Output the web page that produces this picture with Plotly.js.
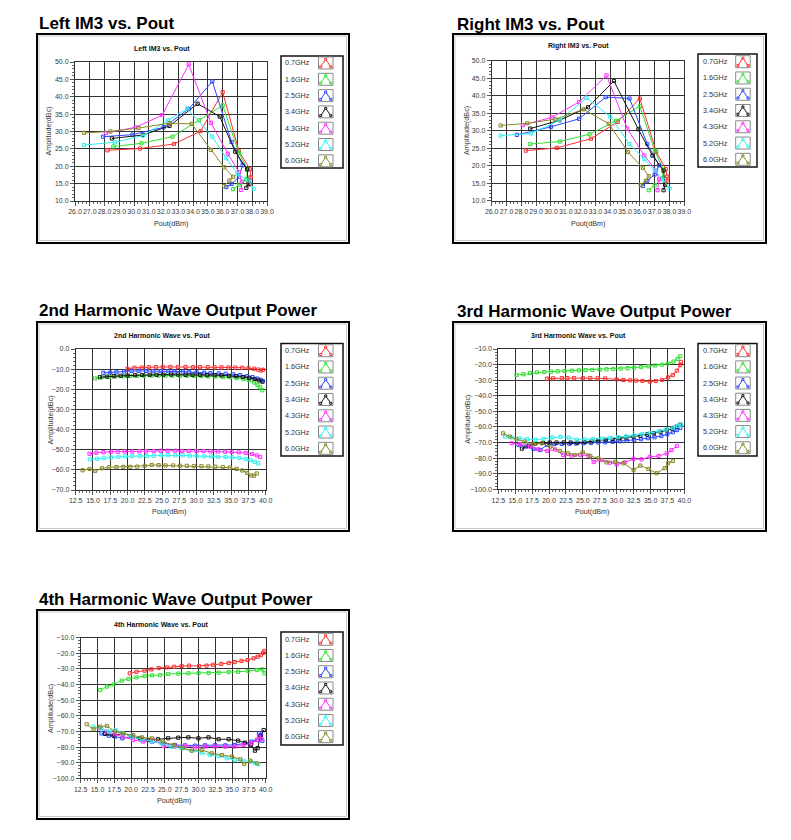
<!DOCTYPE html>
<html><head><meta charset="utf-8">
<script src="https://cdn.plot.ly/plotly-3.0.1.min.js"></script>
<style>html,body{margin:0;padding:0;background:#fff;}#chart{width:791px;height:840px;}</style>
</head><body><div id="chart"></div>
<script>
// ---------- labels / colours ----------
const freqLabels = ['0.7GHz','1.6GHz','2.5GHz','3.4GHz','4.3GHz','5.2GHz','6.0GHz'];
const seriesColors = ['#ff3030','#30e030','#2848ff','#151515','#ff30ff','#30f0f0','#8a8a2a'];
const headings = ['Left IM3 vs. Pout','Right IM3 vs. Pout','2nd Harmonic Wave Output Power','3rd Harmonic Wave Output Power','4th Harmonic Wave Output Power'];
const subTitles = ['Left IM3 vs. Pout','Right IM3 vs. Pout','2nd Harmonic Wave vs. Pout','3rd Harmonic Wave vs. Pout','4th Harmonic Wave vs. Pout'];
const xTitle = 'Pout(dBm)';
const yTitle = 'Amplitude(dBc)';

// ---------- Left IM3 ----------
const L07X=[28.2,30.4,32.7,34.5,36.0,37.1,37.85,37.9,37.8,37.75,37.85];
const L07Y=[24.6,25.1,26.4,30.1,41.3,24.3,19.1,16.8,16.0,15.3,14.8];
const L16X=[28.6,30.5,32.6,34.4,36.0,37.1,37.7,37.6,37.1,36.7];
const L16Y=[25.7,26.6,28.5,33.2,37.5,23.8,19.0,16.2,14.7,13.4];
const L25X=[27.9,29.9,32.0,33.7,35.3,36.6,37.35,37.1,36.6,36.25];
const L25Y=[28.5,29.1,31.2,36.5,44.4,27.0,20.3,17.0,14.9,14.0];
const L34X=[28.5,30.6,32.4,34.3,35.8,36.85,37.65,37.75,37.6];
const L34Y=[28.0,29.0,31.6,38.0,34.3,24.2,19.1,14.9,13.8];
const L43X=[28.1,30.1,31.9,33.7,35.2,36.35,37.1,37.3,37.25];
const L43Y=[29.6,31.2,34.7,49.3,32.5,23.6,18.3,15.6,13.2];
const L52X=[26.6,28.7,30.6,32.3,33.6,35.3,36.25,37.0,37.75,38.1];
const L52Y=[26.1,26.9,28.8,33.2,36.6,28.5,22.3,17.8,15.9,13.5];
const L60X=[26.6,28.4,30.3,32.4,33.9,35.2,36.1,36.7,36.45,36.1];
const L60Y=[29.6,30.0,31.0,32.4,32.2,24.7,19.7,17.0,15.9,14.3];

// ---------- Right IM3 ----------
const R07X=[28.3,30.4,32.7,34.5,36.0,37.1,37.75,37.85,37.8,37.7];
const R07Y=[24.3,25.1,27.7,32.5,39.2,24.0,19.0,16.9,15.7,15.0];
const R16X=[28.6,30.6,32.6,34.4,36.0,37.0,37.6,37.5,37.0,36.6];
const R16Y=[26.2,26.9,29.0,32.8,37.0,24.3,18.8,16.4,14.4,13.0];
const R25X=[27.7,30.0,31.9,33.7,35.3,36.5,37.3,37.0,36.5,36.2];
const R25Y=[28.8,31.1,33.4,39.6,39.2,26.2,20.1,17.5,15.6,14.2];
const R34X=[28.6,30.6,32.5,34.25,35.9,36.85,37.6,37.7,37.6];
const R34Y=[30.6,33.0,36.7,44.2,30.4,22.9,18.6,14.5,13.0];
const R43X=[28.1,30.05,31.9,33.75,35.15,36.3,37.1,37.3,37.2];
const R43Y=[31.6,33.8,38.2,45.8,30.6,22.9,18.6,16.1,13.0];
const R52X=[26.6,28.65,30.6,32.4,34.0,35.3,36.3,37.0,37.6,38.0];
const R52Y=[28.6,29.2,33.0,39.4,34.0,26.2,21.9,18.6,15.9,13.5];
const R60X=[26.6,28.4,30.3,32.2,33.9,35.2,36.2,36.6,36.4,36.05];
const R60Y=[31.5,32.1,33.3,36.1,32.0,23.9,19.4,17.0,15.7,14.5];

// ---------- 2nd harmonic ----------
const H2_07X=[20.0,21.0,22.1,23.1,24.1,25.1,26.2,27.3,28.4,29.5,30.5,31.6,32.6,33.6,34.6,35.6,36.6,37.5,38.3,38.9,39.3,39.6];
const H2_07Y=[-9.8,-9.3,-9.2,-9.0,-9.0,-8.9,-8.9,-8.9,-8.9,-9.0,-9.0,-9.0,-9.1,-9.1,-9.2,-9.2,-9.3,-9.5,-9.8,-10.2,-10.7,-10.3];
const H2_16X=[15.3,16.3,17.3,18.3,19.4,20.4,21.4,22.4,23.5,24.5,25.5,26.5,27.6,28.6,29.6,30.7,31.7,32.7,33.8,34.8,35.8,36.8,37.6,38.3,38.8,39.2,39.5];
const H2_16Y=[-14.6,-14.0,-13.8,-13.6,-13.5,-13.4,-13.3,-13.3,-13.2,-13.2,-13.2,-13.2,-13.3,-13.3,-13.4,-13.5,-13.6,-13.7,-13.9,-14.1,-14.4,-14.9,-15.6,-16.6,-17.8,-19.0,-20.5];
const H2_25X=[16.5,17.5,18.4,19.5,20.6,21.6,22.7,23.7,24.8,25.9,26.8,28.0,28.9,30.0,31.1,32.0,33.2,34.2,35.3,36.3,37.3,38.1,38.8,39.3,39.6];
const H2_25Y=[-11.8,-11.7,-11.6,-11.2,-10.9,-10.8,-10.9,-11.0,-11.0,-11.1,-11.2,-11.2,-11.4,-11.6,-11.8,-12.0,-12.1,-12.3,-12.6,-13.0,-13.5,-14.0,-14.7,-15.3,-16.0];
const H2_34X=[16.0,17.0,18.0,19.0,20.0,21.1,22.1,23.2,24.2,25.2,26.3,27.3,28.4,29.4,30.5,31.5,32.6,33.6,34.7,35.7,36.7,37.6,38.4,39.0,39.5];
const H2_34Y=[-14.0,-13.7,-13.5,-13.3,-13.2,-13.0,-12.9,-12.8,-12.8,-12.7,-12.7,-12.7,-12.8,-12.8,-12.9,-13.0,-13.0,-13.1,-13.3,-13.5,-13.9,-14.3,-14.9,-15.6,-16.2];
const H2_43X=[14.5,15.5,16.5,17.6,18.6,19.6,20.7,21.7,22.7,23.8,24.8,25.8,26.9,27.9,28.9,30.0,31.0,32.0,33.1,34.1,35.1,36.1,37.1,38.0,38.7,39.2];
const H2_43Y=[-52.0,-51.5,-51.2,-51.0,-51.0,-50.9,-50.9,-50.8,-50.8,-50.7,-50.5,-50.5,-50.5,-50.6,-50.6,-50.7,-50.7,-50.8,-50.9,-51.0,-51.1,-51.3,-51.6,-52.1,-52.8,-53.6];
const H2_52X=[14.6,15.6,16.6,17.6,18.7,19.7,20.7,21.8,22.8,23.8,24.9,25.9,26.9,28.0,29.0,30.0,31.1,32.1,33.1,34.2,35.2,36.2,37.1,37.8,38.4,38.9];
const H2_52Y=[-54.8,-54.5,-54.0,-53.8,-53.5,-53.3,-53.2,-53.2,-53.1,-53.0,-52.8,-52.7,-52.8,-52.8,-53.0,-53.2,-53.3,-53.4,-53.5,-53.6,-53.8,-54.1,-54.6,-55.2,-56.0,-56.8];
const H2_60X=[13.5,14.5,15.3,16.3,17.3,18.4,19.4,20.4,21.4,22.5,23.5,24.5,25.5,26.6,27.6,28.6,29.6,30.7,31.7,32.7,33.8,34.8,35.8,36.6,37.3,37.9,38.3,38.7];
const H2_60Y=[-60.2,-59.5,-60.6,-59.2,-58.7,-58.6,-58.5,-58.5,-58.4,-58.0,-57.6,-57.7,-57.8,-57.8,-57.9,-58.0,-58.1,-58.2,-58.3,-58.4,-58.6,-58.9,-59.5,-60.3,-61.5,-62.8,-62.9,-61.8];

// ---------- 3rd harmonic ----------
const H3_07X=[19.7,20.6,21.9,22.7,23.7,25.0,26.1,27.2,28.3,30.0,31.0,32.0,32.9,33.8,34.9,35.8,36.7,37.6,38.3,38.9,39.4,39.5];
const H3_07Y=[-29.0,-28.8,-28.7,-28.7,-28.7,-28.7,-28.7,-28.8,-28.9,-29.5,-29.9,-30.1,-30.3,-30.5,-30.9,-30.5,-29.9,-28.2,-26.7,-23.9,-20.3,-18.3];
const H3_16X=[15.2,16.2,17.2,18.2,19.3,20.3,21.3,22.3,23.4,24.4,25.4,26.4,27.5,28.5,29.5,30.6,31.6,32.6,33.6,34.7,35.7,36.7,37.6,38.4,39.0,39.4];
const H3_16Y=[-26.7,-26.2,-25.4,-25.0,-24.8,-24.5,-24.3,-24.1,-23.9,-23.7,-23.6,-23.4,-23.2,-23.0,-22.8,-22.6,-22.3,-22.0,-21.6,-21.1,-20.6,-20.1,-19.3,-18.1,-16.4,-14.7];
const H3_25X=[15.5,16.6,17.7,18.7,19.7,20.8,21.9,23.0,24.0,25.1,26.2,27.3,28.3,29.4,30.5,31.5,32.6,33.6,34.6,35.6,36.6,37.5,38.3,38.9,39.4];
const H3_25Y=[-71.6,-72.6,-74.1,-74.8,-71.6,-71.0,-70.9,-70.8,-70.6,-70.5,-70.3,-70.0,-69.8,-69.5,-69.2,-68.8,-68.3,-67.8,-67.2,-66.6,-65.8,-64.7,-63.4,-62.0,-60.5];
const H3_34X=[16.0,17.0,18.0,19.1,20.1,21.1,22.2,23.2,24.2,25.3,26.3,27.3,28.4,29.4,30.4,31.4,32.5,33.5,34.5,35.5,36.5,37.4,38.2,38.9,39.4];
const H3_34Y=[-73.9,-72.0,-70.6,-70.2,-70.0,-70.0,-69.9,-70.0,-70.1,-69.7,-69.3,-68.8,-68.2,-67.7,-67.2,-66.8,-66.2,-65.6,-64.8,-64.0,-63.1,-62.1,-61.0,-59.7,-58.6];
const H3_43X=[14.5,15.7,17.2,18.4,19.7,20.9,22.1,23.3,24.6,25.8,26.6,27.8,29.0,30.0,31.2,32.5,33.7,34.9,36.2,37.4,38.1,38.9];
const H3_43Y=[-70.5,-71.0,-72.6,-74.3,-75.4,-74.5,-78.0,-78.4,-78.0,-78.4,-82.5,-81.2,-82.9,-84.0,-82.7,-80.5,-80.8,-79.2,-78.6,-77.0,-74.8,-72.2];
const H3_52X=[13.5,14.5,15.6,16.8,18.0,19.2,20.5,21.7,22.9,24.1,25.3,26.5,27.8,29.0,30.2,31.4,32.6,33.8,35.0,36.2,37.3,38.3,39.0,39.5];
const H3_52Y=[-66.2,-66.8,-67.3,-67.9,-68.2,-67.6,-66.8,-66.4,-66.8,-68.2,-68.0,-67.8,-67.4,-67.0,-66.5,-66.0,-65.4,-64.6,-63.8,-62.8,-61.7,-60.5,-59.4,-58.6];
const H3_60X=[13.2,14.2,15.2,16.4,17.7,18.9,20.2,21.6,22.8,23.8,25.0,26.1,27.3,28.5,29.8,31.0,32.5,33.5,34.7,35.9,37.1,37.6,38.3];
const H3_60Y=[-64.1,-66.2,-67.9,-69.4,-70.9,-70.5,-72.6,-75.4,-76.9,-78.0,-76.3,-78.6,-80.1,-82.7,-82.3,-83.3,-87.6,-84.8,-87.0,-89.7,-86.5,-83.3,-81.8];

// ---------- 4th harmonic ----------
const H4_07X=[19.8,20.8,22.0,23.0,24.1,25.3,26.4,27.5,28.6,30.1,31.2,32.2,33.4,34.5,35.4,36.4,37.3,38.2,38.8,39.3,39.6,39.8];
const H4_07Y=[-32.8,-31.8,-31.1,-30.3,-29.4,-29.0,-28.6,-28.1,-27.9,-28.1,-27.9,-27.3,-26.8,-26.2,-25.6,-24.9,-24.3,-23.2,-22.2,-21.1,-19.6,-18.5];
const H4_16X=[15.4,16.4,17.4,18.6,19.6,20.8,22.0,23.1,24.3,25.5,27.0,28.5,30.0,31.5,33.0,34.5,35.9,37.4,38.7,39.5,39.8];
const H4_16Y=[-43.5,-41.3,-39.9,-37.5,-36.4,-35.4,-34.5,-34.1,-33.9,-33.2,-33.0,-32.8,-32.6,-32.6,-32.4,-32.0,-31.8,-31.3,-30.7,-30.3,-32.8];
const H4_25X=[15.6,16.7,17.6,18.7,20.1,21.6,23.1,24.8,26.5,28.0,29.5,31.0,32.5,34.0,35.4,36.9,37.9,38.7,39.0,39.3,39.5];
const H4_25Y=[-71.2,-72.7,-73.3,-74.4,-73.3,-75.5,-76.6,-77.6,-78.7,-78.9,-79.1,-78.9,-78.7,-78.9,-78.7,-77.6,-76.5,-75.5,-71.2,-72.5,-76.0];
const H4_34X=[16.1,17.4,18.8,20.1,21.3,22.6,24.0,25.5,27.0,28.5,30.0,31.5,33.0,34.5,35.9,36.9,37.8,38.4,38.8,39.2,39.7];
const H4_34Y=[-71.6,-72.7,-71.2,-73.3,-74.4,-75.5,-75.0,-74.4,-74.0,-73.8,-74.4,-73.8,-75.0,-75.0,-75.9,-77.2,-78.7,-82.3,-80.7,-73.3,-69.1];
const H4_43X=[15.3,16.4,17.6,18.8,20.3,21.8,23.3,24.8,26.5,28.0,29.5,31.0,32.5,34.0,35.4,36.7,37.9,38.7,39.0,39.4];
const H4_43Y=[-68.0,-70.1,-71.8,-73.3,-75.5,-76.5,-75.5,-79.3,-79.7,-79.1,-80.2,-79.7,-79.7,-79.7,-79.7,-78.7,-77.6,-75.5,-73.3,-75.0];
const H4_52X=[14.4,15.6,16.8,17.7,18.8,20.1,21.6,23.1,24.5,26.0,27.5,29.0,30.5,31.7,33.0,34.2,35.4,36.7,37.8,38.4,38.9];
const H4_52Y=[-66.9,-68.6,-70.1,-69.0,-71.2,-73.3,-75.0,-76.5,-77.6,-79.7,-80.8,-82.3,-83.6,-85.1,-85.7,-87.2,-88.3,-88.7,-89.3,-90.4,-91.0];
const H4_60X=[13.4,14.4,15.4,16.4,17.6,18.8,20.3,21.6,23.1,24.7,26.3,27.7,29.0,30.5,32.0,33.5,35.0,36.2,36.8,37.7,38.7];
const H4_60Y=[-65.4,-68.6,-66.9,-66.5,-70.1,-71.2,-72.3,-73.8,-74.4,-76.5,-78.7,-80.5,-82.3,-81.9,-84.0,-85.1,-86.1,-87.8,-90.8,-88.7,-90.4];

// ---------- page geometry (pixels) ----------
const W=791, H=840;
const fx = p => p/W, fy = p => 1 - p/H;
const FONT = 'Liberation Sans, Arial, sans-serif';

const panels = [
 {xs:[L07X,L16X,L25X,L34X,L43X,L52X,L60X], ys:[L07Y,L16Y,L25Y,L34Y,L43Y,L52Y,L60Y],
  frame:[37,34,349,243], plot:[75,62,267,201], xr:[26,39], xd:1, xm:0.25, yr:[10,50], yd:5, ym:1,
  head:[36.5,23.5], sub:[162,48], ylab:[48,131.5], xlab:[171,224],
  leg:{box:[281,56,343,168], tr:312, il:318.5, y0:63, dy:16.3}},
 {xs:[R07X,R16X,R25X,R34X,R43X,R52X,R60X], ys:[R07Y,R16Y,R25Y,R34Y,R43Y,R52Y,R60Y],
  frame:[453,34,766,243], plot:[491.7,60.7,684.3,200.7], xr:[26,39], xd:1, xm:0.25, yr:[10,50], yd:5, ym:1,
  head:[454.5,24], sub:[578,46], ylab:[466,131], xlab:[588,224],
  leg:{box:[698,54,757,167], tr:729.5, il:735.7, y0:61.7, dy:16.27}},
 {xs:[H2_07X,H2_16X,H2_25X,H2_34X,H2_43X,H2_52X,H2_60X], ys:[H2_07Y,H2_16Y,H2_25Y,H2_34Y,H2_43Y,H2_52Y,H2_60Y],
  frame:[37,322,349,531], plot:[75.7,349,265.7,490], xr:[12.5,40], xd:2.5, xm:0.5, yr:[-70,0], yd:10, ym:2,
  head:[36.5,310.5], sub:[162,335], ylab:[50,419.5], xlab:[169,511.7],
  leg:{box:[281,343.5,343,456], tr:312, il:318.5, y0:350.7, dy:16.27}},
 {xs:[H3_07X,H3_16X,H3_25X,H3_34X,H3_43X,H3_52X,H3_60X], ys:[H3_07Y,H3_16Y,H3_25Y,H3_34Y,H3_43Y,H3_52Y,H3_60Y],
  frame:[453,322,766,531], plot:[498.3,349,684.3,489.3], xr:[12.5,40], xd:2.5, xm:0.5, yr:[-100,-10], yd:10, ym:2,
  head:[454.5,311], sub:[578,335], ylab:[466.7,419], xlab:[591.5,511.7],
  leg:{box:[698,343.5,757,456], tr:729.5, il:735.7, y0:350.7, dy:16.17}},
 {xs:[H4_07X,H4_16X,H4_25X,H4_34X,H4_43X,H4_52X,H4_60X], ys:[H4_07Y,H4_16Y,H4_25Y,H4_34Y,H4_43Y,H4_52Y,H4_60Y],
  frame:[37,610,349,819], plot:[80.7,637.7,265.7,778.3], xr:[12.5,40], xd:2.5, xm:0.5, yr:[-100,-10], yd:10, ym:2,
  head:[36.5,599.5], sub:[161,624], ylab:[50,708], xlab:[174,800.7],
  leg:{box:[281,632,343,745], tr:312, il:318.5, y0:639.3, dy:16.23}}
];

const traces=[], shapes=[], annotations=[];
const layout = {width:W, height:H, margin:{l:0,r:0,t:0,b:0}, paper_bgcolor:'#fff', plot_bgcolor:'#fff',
  showlegend:false, font:{family:FONT, size:7, color:'#333'}};

const gridC='#333333';
function axisBase(){
  return {tickmode:'linear', tickformat:'.1f', ticks:'outside', ticklen:4, tickwidth:1, tickcolor:'#555',
    tickfont:{family:FONT, size:7, color:'#3a3a3a'}, showgrid:true, gridcolor:gridC, gridwidth:1,
    showline:true, linecolor:gridC, linewidth:1, mirror:true, zeroline:false, fixedrange:true, tickangle:0};
}

panels.forEach((p,i)=>{
  const n = i===0 ? '' : String(i+1);
  const xa='x'+n, ya='y'+n;
  const [pl,pt,pr,pb] = p.plot;
  layout['xaxis'+n] = Object.assign(axisBase(), {domain:[fx(pl),fx(pr)], range:p.xr, tick0:p.xr[0], dtick:p.xd, anchor:ya,
     minor:{dtick:p.xm, tick0:p.xr[0], ticks:'outside', ticklen:2, tickcolor:'#666', showgrid:false}});
  layout['yaxis'+n] = Object.assign(axisBase(), {domain:[fy(pb),fy(pt)], range:p.yr, tick0:p.yr[0], dtick:p.yd, anchor:xa,
     minor:{dtick:p.ym, tick0:p.yr[0], ticks:'outside', ticklen:2, tickcolor:'#666', showgrid:false}});

  p.xs.forEach((xarr,k)=>{
    traces.push({type:'scatter', mode:'lines+markers', x:xarr, y:p.ys[k], xaxis:xa, yaxis:ya, name:freqLabels[k],
      line:{color:seriesColors[k], width:1}, marker:{symbol:'square-open', size:3.2, color:seriesColors[k], line:{width:1, color:seriesColors[k]}},
      hoverinfo:'skip', cliponaxis:false});
  });

  // outer frame
  const [fl,ft,fr,fb] = p.frame;
  shapes.push({type:'rect', xref:'paper', yref:'paper', x0:fx(fl), x1:fx(fr), y0:fy(fb), y1:fy(ft), line:{color:'#000', width:2}});
  shapes.push({type:'rect', xref:'paper', yref:'paper', x0:fx(fl+2), x1:fx(fr-2.5), y0:fy(fb-2.5), y1:fy(ft+2), line:{color:'#c8c8c8', width:1}});

  // heading & titles
  annotations.push({xref:'paper', yref:'paper', x:fx(p.head[0]), y:fy(p.head[1]), xanchor:'left', yanchor:'middle', showarrow:false,
    text:'<b>'+headings[i]+'</b>', font:{family:FONT, size:17, color:'#000'}});
  annotations.push({xref:'paper', yref:'paper', x:fx(p.sub[0]), y:fy(p.sub[1]), xanchor:'center', yanchor:'middle', showarrow:false,
    text:'<b>'+subTitles[i]+'</b>', font:{family:FONT, size:7, color:'#111'}});
  annotations.push({xref:'paper', yref:'paper', x:fx(p.ylab[0]), y:fy(p.ylab[1]), xanchor:'center', yanchor:'middle', showarrow:false,
    text:yTitle, textangle:-90, font:{family:FONT, size:7.2, color:'#333'}});
  annotations.push({xref:'paper', yref:'paper', x:fx(p.xlab[0]), y:fy(p.xlab[1]), xanchor:'center', yanchor:'middle', showarrow:false,
    text:xTitle, font:{family:FONT, size:7.2, color:'#333'}});

  // legend (drawn as a LabVIEW-style plot legend)
  const L = p.leg;
  shapes.push({type:'rect', xref:'paper', yref:'paper', x0:fx(L.box[0]), x1:fx(L.box[2]), y0:fy(L.box[3]), y1:fy(L.box[1]), line:{color:'#111', width:1.5}});
  freqLabels.forEach((lab,k)=>{
    const yc = L.y0 + k*L.dy;
    annotations.push({xref:'paper', yref:'paper', x:fx(L.tr), y:fy(yc), xanchor:'right', yanchor:'middle', showarrow:false,
      text:lab, font:{family:FONT, size:7.2, color:'#333'}});
    const il=L.il, ir=L.il+14.5;
    shapes.push({type:'rect', xref:'paper', yref:'paper', x0:fx(il), x1:fx(ir), y0:fy(yc+6), y1:fy(yc-6), line:{color:'#8a8a8a', width:1}, fillcolor:'#fff'});
    const pts = [[il+2.2,yc+3.8],[il+7.2,yc-3.6],[il+12.3,yc+3.8]];
    shapes.push({type:'path', xref:'paper', yref:'paper',
      path:'M'+fx(pts[0][0])+','+fy(pts[0][1])+' L'+fx(pts[1][0])+','+fy(pts[1][1])+' L'+fx(pts[2][0])+','+fy(pts[2][1]),
      line:{color:seriesColors[k], width:1}});
    pts.forEach(q=>shapes.push({type:'rect', xref:'paper', yref:'paper', x0:fx(q[0]-1), x1:fx(q[0]+1), y0:fy(q[1]+1), y1:fy(q[1]-1),
      line:{color:seriesColors[k], width:1}, fillcolor:'#fff'}));
  });
});

layout.shapes = shapes;
layout.annotations = annotations;
Plotly.newPlot('chart', traces, layout, {staticPlot:true, displayModeBar:false});
</script></body></html>
